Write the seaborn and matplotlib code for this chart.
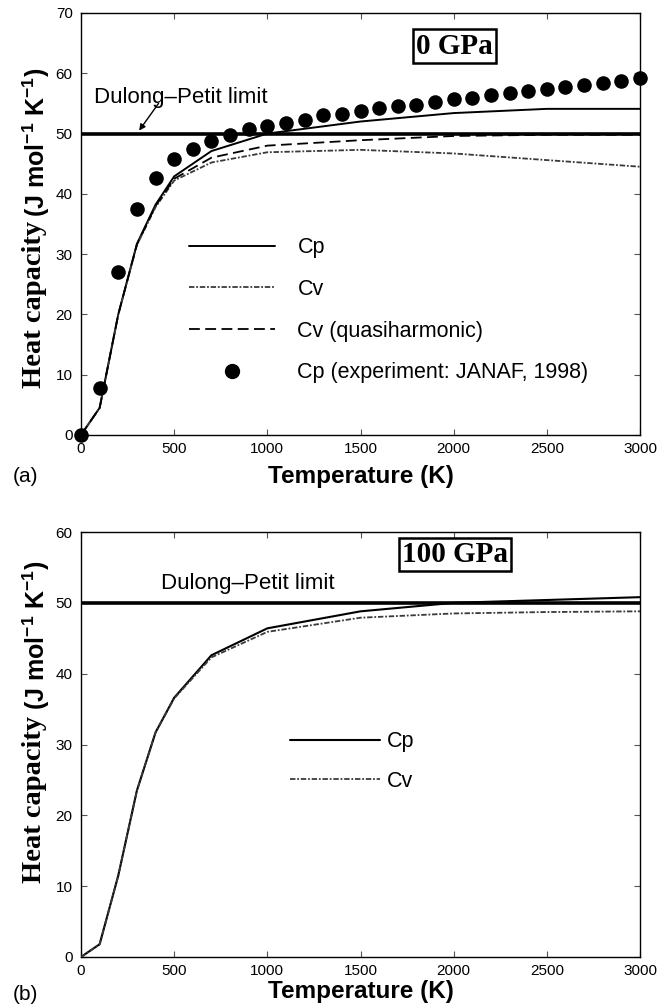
import numpy as np
import pandas as pd
import matplotlib
matplotlib.use("Agg")
import matplotlib.pyplot as plt
import seaborn as sns
from matplotlib.lines import Line2D
from matplotlib.legend_handler import HandlerLine2D

# ---------------- data ----------------
T_calc = [0, 100, 200, 300, 400, 500, 700, 1000, 1500, 2000, 2500, 3000]

# (a) 0 GPa
cp_0 = [0, 4.5, 20.0, 31.7, 38.2, 42.9, 47.1, 50.0, 52.0, 53.4, 54.1, 54.1]
cv_0 = [0, 4.5, 20.0, 31.5, 37.8, 42.2, 45.2, 46.9, 47.3, 46.7, 45.6, 44.5]
cv_qh_0 = [0, 4.5, 20.0, 31.6, 38.0, 42.5, 46.0, 48.0, 48.9, 49.6, 49.8, 49.8]

T_exp = [0, 100, 200, 300, 400, 500, 600, 700, 800, 900, 1000, 1100, 1200, 1300,
         1400, 1500, 1600, 1700, 1800, 1900, 2000, 2100, 2200, 2300, 2400, 2500,
         2600, 2700, 2800, 2900, 3000]
cp_exp = [0, 7.8, 27.0, 37.5, 42.7, 45.7, 47.5, 48.8, 49.8, 50.7, 51.3, 51.8,
          52.3, 53.0, 53.3, 53.8, 54.2, 54.5, 54.8, 55.3, 55.7, 55.9, 56.4, 56.65,
          57.1, 57.4, 57.7, 58.0, 58.4, 58.8, 59.2]

# (b) 100 GPa
cp_100 = [0, 1.8, 11.5, 23.5, 31.7, 36.6, 42.6, 46.4, 48.8, 50.0, 50.4, 50.8]
cv_100 = [0, 1.8, 11.5, 23.5, 31.7, 36.5, 42.3, 45.9, 47.9, 48.5, 48.7, 48.8]

dulong_petit = 50.0

labels_a = ["Cp", "Cv", "Cv (quasiharmonic)", "Cp (experiment: JANAF, 1998)"]
labels_b = ["Cp", "Cv"]

# ---------------- style ----------------
sns.set_theme(style="ticks")
plt.rcParams["font.family"] = ["Liberation Sans", "DejaVu Sans"]
plt.rcParams["text.color"] = "black"
plt.rcParams["axes.labelcolor"] = "black"
plt.rcParams["xtick.color"] = "black"
plt.rcParams["ytick.color"] = "black"
plt.rcParams["mathtext.fontset"] = "custom"
plt.rcParams["mathtext.rm"] = "Liberation Sans:bold"
plt.rcParams["mathtext.it"] = "Liberation Sans:bold"
plt.rcParams["mathtext.bf"] = "Liberation Sans:bold"
plt.rcParams["mathtext.default"] = "rm"

fig = plt.figure(figsize=(6.72, 10.06), dpi=100)
W, H = 672, 1006
ax1 = fig.add_axes([81 / W, 1 - 435 / H, 559 / W, 422 / H])
ax2 = fig.add_axes([81 / W, 1 - 957 / H, 559 / W, 425 / H])

CV_STYLE = (0, (3, 1, 1, 1))
QH_STYLE = (0, (6, 3))
CV_COLOR = "#3a3a3a"


class RightMarker(HandlerLine2D):
    def get_xdata(self, legend, xdescent, ydescent, width, height, fontsize):
        xdata = [-xdescent, -xdescent + width]
        return xdata, [-xdescent + 0.85 * width]


df_a = pd.DataFrame({"T": T_calc, "Cp": cp_0, "Cv": cv_0, "Cvqh": cv_qh_0})
df_exp = pd.DataFrame({"T": T_exp, "Cp": cp_exp})
df_b = pd.DataFrame({"T": T_calc, "Cp": cp_100, "Cv": cv_100})


def style_axes(ax, ymax):
    ax.set_xlim(0, 3000)
    ax.set_ylim(0, ymax)
    ax.set_xticks(np.arange(0, 3001, 500))
    ax.set_yticks(np.arange(0, ymax + 1, 10))
    ax.tick_params(axis="both", which="both", direction="in", length=4,
                   width=0.8, color="#555555", labelcolor="black", labelsize=11,
                   top=True, right=True)
    ax.tick_params(axis="y", pad=6)
    ax.tick_params(axis="x", pad=5)
    for s in ax.spines.values():
        s.set_linewidth(1.0)
        s.set_color("black")
    ax.set_xlabel("Temperature (K)", fontsize=17.5, fontweight="bold")
    ax.set_ylabel("")
    ax.axhline(dulong_petit, color="black", lw=2.6, zorder=1)


# ---------------- (a) ----------------
sns.lineplot(data=df_a, x="T", y="Cp", ax=ax1, color="black", lw=1.4, zorder=3)
sns.lineplot(data=df_a, x="T", y="Cv", ax=ax1, color=CV_COLOR, lw=1.3,
             linestyle=CV_STYLE, zorder=3)
sns.lineplot(data=df_a, x="T", y="Cvqh", ax=ax1, color="black", lw=1.3,
             linestyle=QH_STYLE, zorder=3)
sns.scatterplot(data=df_exp, x="T", y="Cp", ax=ax1, color="black", s=110,
                edgecolor="black", linewidth=0, zorder=4, clip_on=False)
style_axes(ax1, 70)
ax1.xaxis.set_label_coords(0.5, -0.07)

h_a = [Line2D([], [], color="black", lw=1.4),
       Line2D([], [], color=CV_COLOR, lw=1.3, linestyle=CV_STYLE),
       Line2D([], [], color="black", lw=1.3, linestyle=QH_STYLE),
       Line2D([], [], color="black", lw=0, marker="o", markersize=10)]
ax1.legend(h_a, labels_a, loc="upper left", bbox_to_anchor=(578, 32.8),
           bbox_transform=ax1.transData, frameon=False, fontsize=15.5,
           handlelength=4.0, handletextpad=1.05, labelspacing=0.96,
           borderpad=0, borderaxespad=0, numpoints=1,
           handler_map={h_a[3]: RightMarker()})

ax1.text(2005, 64.5, "0 GPa", ha="center", va="center",
         fontfamily="Liberation Serif", fontweight="bold", fontsize=21,
         bbox=dict(boxstyle="square,pad=0.12", fc="white", ec="black", lw=1.8))
ax1.text(69, 56.0, "Dulong\u2013Petit limit", ha="left", va="center", fontsize=16)
ax1.annotate("", xy=(312, 50.5), xytext=(416, 55.0),
             arrowprops=dict(arrowstyle="-|>", lw=1.0, color="black",
                             mutation_scale=9, shrinkA=0, shrinkB=0))

# ---------------- (b) ----------------
sns.lineplot(data=df_b, x="T", y="Cp", ax=ax2, color="black", lw=1.5, zorder=3)
sns.lineplot(data=df_b, x="T", y="Cv", ax=ax2, color=CV_COLOR, lw=1.3,
             linestyle=CV_STYLE, zorder=3)
style_axes(ax2, 60)
ax2.xaxis.set_label_coords(0.5, -0.055)

h_b = [Line2D([], [], color="black", lw=1.5),
       Line2D([], [], color=CV_COLOR, lw=1.3, linestyle=CV_STYLE)]
ax2.legend(h_b, labels_b, loc="upper left", bbox_to_anchor=(1122, 31.85),
           bbox_transform=ax2.transData, frameon=False, fontsize=15.5,
           handlelength=4.2, handletextpad=0.3, labelspacing=0.86,
           borderpad=0, borderaxespad=0)

ax2.text(2005, 56.8, "100 GPa", ha="center", va="center",
         fontfamily="Liberation Serif", fontweight="bold", fontsize=21,
         bbox=dict(boxstyle="square,pad=0.1", fc="white", ec="black", lw=1.8))
ax2.text(427, 52.8, "Dulong\u2013Petit limit", ha="left", va="center", fontsize=16)

# ---------------- y labels (mixed fonts) ----------------
for ax, yb1, yb2 in [(ax1, 0.111, 0.517), (ax2, 0.174, 0.58)]:
    ax.text(-0.083, yb1, "Heat capacity", rotation=90, transform=ax.transAxes,
            ha="center", va="bottom", fontfamily="Liberation Serif",
            fontweight="bold", fontsize=20.5)
    ax.text(-0.080, yb2, r"(J mol$^{-1}$ K$^{-1}$)", rotation=90,
            transform=ax.transAxes, ha="center", va="bottom",
            fontweight="bold", fontsize=18)

fig.text(13 / W, 1 - 477 / H, "(a)", ha="left", va="center", fontsize=15)
fig.text(13 / W, 1 - 994 / H, "(b)", ha="left", va="center", fontsize=15)

fig.savefig("out.png", dpi=100)
